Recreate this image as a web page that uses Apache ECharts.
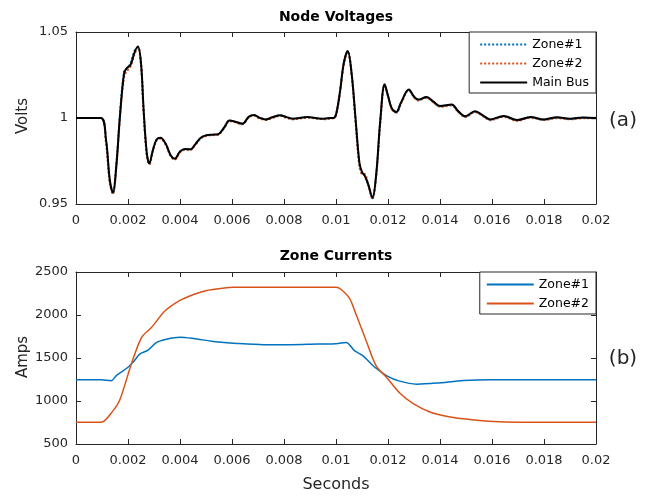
<!DOCTYPE html>
<html>
<head>
<meta charset="utf-8">
<script src="https://cdn.jsdelivr.net/npm/echarts@6/dist/echarts.min.js"></script>
<style>
html,body{margin:0;padding:0;background:#fff;}
#chart{width:655px;height:496px;}
</style>
</head>
<body>
<div id="chart"></div>
<script>
// ---------- data ----------
var xTicks = [0, 0.002, 0.004, 0.006, 0.008, 0.01, 0.012, 0.014, 0.016, 0.018, 0.02];
var voltTicks = [0.95, 1, 1.05];
var ampTicks = [500, 1000, 1500, 2000, 2500];

var tVolt = [
  0, 0.00095, 0.00115, 0.0013, 0.00142, 0.00155, 0.0017, 0.00185, 0.00195, 0.0021,
  0.00225, 0.00238, 0.0025, 0.0026, 0.00272, 0.00282, 0.00295, 0.0031, 0.00325, 0.00345,
  0.00365, 0.0038, 0.004, 0.0042, 0.0044, 0.0046, 0.0048, 0.005, 0.00525, 0.00545,
  0.0057, 0.0059, 0.0061, 0.0064, 0.00665, 0.00685, 0.00705, 0.0073, 0.00755, 0.00785,
  0.0081, 0.00835, 0.0086, 0.0089, 0.0092, 0.00955, 0.0098, 0.0099, 0.01, 0.01015,
  0.0103, 0.01045, 0.0106, 0.01075, 0.0109, 0.011, 0.0111, 0.01125, 0.0114, 0.01155,
  0.0117, 0.01187, 0.012, 0.01215, 0.01232, 0.0125, 0.0128, 0.013, 0.01316, 0.01348,
  0.01375, 0.014, 0.01445, 0.0147, 0.01497, 0.01535, 0.01565, 0.01594, 0.01645, 0.01697,
  0.01748, 0.018, 0.0185, 0.019, 0.0195, 0.02
];
var vMainBus = [
  1.0, 1.0, 0.988, 0.964, 0.9565, 0.972, 1.003, 1.026, 1.029, 1.031,
  1.038, 1.0415, 1.032, 1.005, 0.98, 0.9735, 0.981, 0.9875, 0.9885, 0.985,
  0.978, 0.9763, 0.9805, 0.982, 0.9818, 0.985, 0.9885, 0.9899, 0.9903, 0.9905,
  0.9945, 0.9985, 0.998, 0.9967, 1.0008, 1.0017, 1.0002, 0.9992, 1.0004, 1.0016,
  1.0005, 0.9996, 1.0, 1.0006, 1.0, 0.9996, 1.0, 1.0, 1.002, 1.015,
  1.032, 1.039, 1.026, 1.0, 0.974, 0.9685, 0.9665, 0.961, 0.9536, 0.968,
  0.998, 1.0196, 1.013, 1.0055, 1.0035, 1.009, 1.0165, 1.0125, 1.0107, 1.0122,
  1.0095, 1.007, 1.0078, 1.004, 1.001, 1.0039, 1.0015, 0.9992, 1.0012, 0.9988,
  1.0006, 0.9992, 1.0004, 0.9996, 1.0003, 1.0
];
var vZone1 = [
  1.0, 1.0, 0.987, 0.963, 0.9562, 0.973, 1.004, 1.027, 1.028, 1.032,
  1.039, 1.0412, 1.031, 1.004, 0.979, 0.9733, 0.981, 0.9873, 0.9883, 0.9848,
  0.9778, 0.9762, 0.9803, 0.9818, 0.9817, 0.9849, 0.9884, 0.9898, 0.9902, 0.9904,
  0.9944, 0.9984, 0.9979, 0.9966, 1.0007, 1.0016, 1.0001, 0.9991, 1.0003, 1.0015,
  1.0004, 0.9995, 0.9999, 1.0005, 0.9999, 0.9995, 0.9999, 1.0, 1.002, 1.015,
  1.032, 1.0388, 1.0258, 0.999, 0.973, 0.968, 0.9668, 0.9608, 0.9534, 0.967,
  0.997, 1.0193, 1.0128, 1.0053, 1.0033, 1.0088, 1.0163, 1.0123, 1.0105, 1.012,
  1.0093, 1.0068, 1.0076, 1.0038, 1.0008, 1.0037, 1.0013, 0.999, 1.001, 0.9986,
  1.0004, 0.999, 1.0002, 0.9994, 1.0001, 0.9998
];
var vZone2 = [
  1.0, 1.0, 0.986, 0.962, 0.9558, 0.971, 1.002, 1.024, 1.027, 1.03,
  1.037, 1.041, 1.031, 1.004, 0.979, 0.973, 0.98, 0.987, 0.988, 0.9845,
  0.9775, 0.9758, 0.98, 0.9815, 0.9814, 0.9846, 0.9881, 0.9895, 0.99, 0.9901,
  0.9941, 0.9981, 0.9976, 0.9963, 1.0004, 1.0013, 0.9998, 0.9988, 1.0, 1.0012,
  1.0001, 0.9992, 0.9997, 1.0002, 0.9997, 0.9993, 0.9997, 0.9998, 1.0015, 1.014,
  1.031, 1.0385, 1.0255, 0.998, 0.972, 0.9675, 0.9675, 0.96, 0.953, 0.967,
  0.997, 1.019, 1.0125, 1.005, 1.003, 1.0085, 1.016, 1.012, 1.0102, 1.0117,
  1.009, 1.0065, 1.0073, 1.0035, 1.0005, 1.0034, 1.001, 0.9987, 1.0007, 0.9983,
  1.0001, 0.9988, 0.9999, 0.9992, 0.9999, 0.9997
];

var tCur1 = [
  0, 0.00097, 0.00135, 0.00155, 0.002, 0.00225, 0.00245, 0.00277, 0.0031, 0.00348,
  0.004, 0.00452, 0.00529, 0.00619, 0.00723, 0.00826, 0.00929, 0.01, 0.01039, 0.01071,
  0.01103, 0.01148, 0.01194, 0.01245, 0.0131, 0.01387, 0.0149, 0.01594, 0.01748, 0.02
];
var iZone1 = [
  1246, 1246, 1235, 1296, 1392, 1470, 1546, 1592, 1681, 1719,
  1742, 1727, 1692, 1669, 1654, 1654, 1662, 1665, 1681, 1585,
  1527, 1395, 1296, 1231, 1196, 1208, 1238, 1248, 1248, 1248
];
var tCur2 = [
  0, 0.00097, 0.00142, 0.00168, 0.00213, 0.00252, 0.0029, 0.00342, 0.004, 0.00452,
  0.00503, 0.00555, 0.00606, 0.00748, 0.01, 0.0102, 0.01052, 0.01077, 0.01116, 0.01155,
  0.01194, 0.01245, 0.01297, 0.01361, 0.01439, 0.01516, 0.01606, 0.01697, 0.02
];
var iZone2 = [
  754, 754, 885, 1008, 1431, 1738, 1854, 2046, 2169, 2238,
  2285, 2308, 2323, 2323, 2323, 2296, 2192, 2008, 1700, 1405,
  1277, 1092, 969, 873, 815, 785, 762, 754, 754
];

function pairs(t, v) { return t.map(function (x, i) { return [x, v[i]]; }); }

// ---------- styling ----------
var FONT = 'DejaVu Sans';
var AX = '#262626';
var L = 76, R = 596, W = R - L;

function xAx(grid, pos, labels) {
  return {
    type: 'value', gridIndex: grid, position: pos,
    min: xTicks[0], max: xTicks[xTicks.length - 1], interval: 0.002,
    axisLine: { show: true, onZero: false, lineStyle: { color: AX, width: 1 } },
    axisTick: { show: true, inside: true, length: 5, lineStyle: { color: AX } },
    axisLabel: {
      show: labels, margin: 10, color: AX, fontFamily: FONT, fontSize: 13,
      formatter: function (v) { return v === 0 ? '0' : String(+v.toFixed(4)); }
    },
    splitLine: { show: false }
  };
}
function yAx(grid, pos, labels, ticks, itv, fmt) {
  return {
    type: 'value', gridIndex: grid, position: pos,
    min: ticks[0], max: ticks[ticks.length - 1], interval: itv,
    axisLine: { show: true, onZero: false, lineStyle: { color: AX, width: 1 } },
    axisTick: { show: true, inside: true, length: 5, lineStyle: { color: AX } },
    axisLabel: { show: labels, margin: 8, color: AX, fontFamily: FONT, fontSize: 13, formatter: fmt },
    splitLine: { show: false }
  };
}

var legendItem = { color: 'transparent', borderWidth: 0, opacity: 0 };

var option = {
  backgroundColor: '#ffffff',
  animation: false,
  title: [
    { text: 'Node Voltages', left: 336, top: 10, textAlign: 'center', padding: 0,
      textStyle: { fontFamily: FONT, fontSize: 14, fontWeight: 'bold', color: '#000' } },
    { text: 'Zone Currents', left: 336, top: 249, textAlign: 'center', padding: 0,
      textStyle: { fontFamily: FONT, fontSize: 14, fontWeight: 'bold', color: '#000' } }
  ],
  grid: [
    { left: L, top: 32, width: W, height: 172, show: false },
    { left: L, top: 272, width: W, height: 172, show: false }
  ],
  xAxis: [
    xAx(0, 'bottom', true), xAx(0, 'top', false),
    xAx(1, 'bottom', true), xAx(1, 'top', false)
  ],
  yAxis: [
    yAx(0, 'left', true, voltTicks, 0.05, function (v) { return String(+v.toFixed(2)); }),
    yAx(0, 'right', false, voltTicks, 0.05, null),
    yAx(1, 'left', true, ampTicks, 500, function (v) { return String(v); }),
    yAx(1, 'right', false, ampTicks, 500, null)
  ],
  legend: [
    { data: ['Zone#1', 'Zone#2', 'Main Bus'], orient: 'vertical', right: 59, top: 32,
      padding: [6, 7, 4, 10], itemGap: 6, itemWidth: 47, itemHeight: 14,
      backgroundColor: '#fff', borderColor: AX, borderWidth: 1, borderRadius: 0,
      itemStyle: legendItem,
      textStyle: { fontFamily: FONT, fontSize: 12.5, color: '#000' } },
    { data: ['Zone#1 ', 'Zone#2 '], orient: 'vertical', right: 59, top: 272,
      padding: [6, 3, 4, 6], itemGap: 6, itemWidth: 47, itemHeight: 14,
      backgroundColor: '#fff', borderColor: AX, borderWidth: 1, borderRadius: 0,
      itemStyle: legendItem,
      textStyle: { fontFamily: FONT, fontSize: 12.5, color: '#000' } }
  ],
  series: [
    { name: 'Zone#1', type: 'line', xAxisIndex: 0, yAxisIndex: 0, data: pairs(tVolt, vZone1),
      smooth: 0.35, symbol: 'none', color: '#0072BD', lineStyle: { width: 2, type: 'dotted', color: '#0072BD' } },
    { name: 'Zone#2', type: 'line', xAxisIndex: 0, yAxisIndex: 0, data: pairs(tVolt, vZone2),
      smooth: 0.35, symbol: 'none', color: '#D95319', lineStyle: { width: 2, type: 'dotted', color: '#D95319' } },
    { name: 'Main Bus', type: 'line', xAxisIndex: 0, yAxisIndex: 0, data: pairs(tVolt, vMainBus),
      smooth: 0.35, symbol: 'none', color: '#000', lineStyle: { width: 2, color: '#000' } },
    { name: 'Zone#1 ', type: 'line', xAxisIndex: 2, yAxisIndex: 2, data: pairs(tCur1, iZone1),
      smooth: 0.3, symbol: 'none', color: '#0072BD', lineStyle: { width: 1.5, color: '#0072BD' } },
    { name: 'Zone#2 ', type: 'line', xAxisIndex: 2, yAxisIndex: 2, data: pairs(tCur2, iZone2),
      smooth: 0.3, symbol: 'none', color: '#D95319', lineStyle: { width: 1.5, color: '#D95319' } }
  ],
  graphic: [
    { type: 'text', x: 23, y: 116, rotation: Math.PI / 2,
      style: { text: 'Volts', fontFamily: FONT, fontSize: 15, fill: AX, textAlign: 'center', textVerticalAlign: 'middle' } },
    { type: 'text', x: 23, y: 357, rotation: Math.PI / 2,
      style: { text: 'Amps', fontFamily: FONT, fontSize: 15, fill: AX, textAlign: 'center', textVerticalAlign: 'middle' } },
    { type: 'text', x: 336, y: 485,
      style: { text: 'Seconds', fontFamily: FONT, fontSize: 16, fill: AX, textAlign: 'center', textVerticalAlign: 'middle' } },
    { type: 'text', x: 623, y: 121,
      style: { text: '(a)', fontFamily: FONT, fontSize: 20, fill: AX, textAlign: 'center', textVerticalAlign: 'middle' } },
    { type: 'text', x: 623, y: 359,
      style: { text: '(b)', fontFamily: FONT, fontSize: 20, fill: AX, textAlign: 'center', textVerticalAlign: 'middle' } }
  ]
};

var chart = echarts.init(document.getElementById('chart'), null, { renderer: 'canvas' });
chart.setOption(option);
</script>
</body>
</html>
